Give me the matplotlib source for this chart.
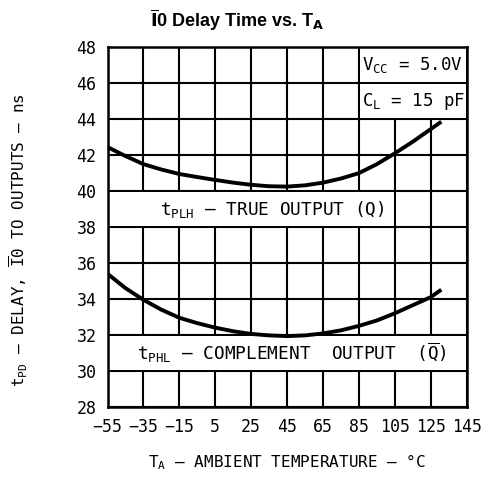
import matplotlib
matplotlib.use('Agg')
import matplotlib.pyplot as plt
from matplotlib.patches import Rectangle

# values
temps = [-55, -45, -35, -25, -15, -5, 5, 15, 25, 35, 45, 55, 65, 75, 85, 95, 105, 115, 125, 130]
t_plh = [42.45, 41.95, 41.5, 41.2, 40.95, 40.78, 40.62, 40.47, 40.35, 40.27, 40.25, 40.32, 40.47, 40.7,
         41.0, 41.5, 42.1, 42.75, 43.45, 43.8]
t_phl = [35.4, 34.6, 33.95, 33.4, 32.95, 32.65, 32.4, 32.2, 32.05, 31.97, 31.93, 31.97, 32.08, 32.25,
         32.5, 32.8, 33.2, 33.65, 34.1, 34.45]
x_ticks = [-55, -35, -15, 5, 25, 45, 65, 85, 105, 125, 145]
y_ticks = [28, 30, 32, 34, 36, 38, 40, 42, 44, 46, 48]

# the original uses a narrow stroke font, a monospace face is the closest look
plt.rcParams['font.family'] = ['DejaVu Sans Mono']
plt.rcParams['mathtext.fontset'] = 'custom'
plt.rcParams['mathtext.rm'] = 'DejaVu Sans Mono'
plt.rcParams['mathtext.default'] = 'regular'

fig = plt.figure(figsize=(4.88, 4.93), dpi=100)
ax = fig.add_axes([0.2203, 0.175, 0.7360, 0.729])

ax.set_xlim(-55, 145)
ax.set_ylim(28, 48)
ax.set_xticks(x_ticks)
ax.set_yticks(y_ticks)
ax.tick_params(length=0, labelsize=12, pad=8)
ax.grid(True, color='black', lw=1.5)
ax.set_axisbelow(True)
for s in ax.spines.values():
    s.set_linewidth(1.8)

# white label boxes (gridlines on their borders stay visible)
boxes = [(-55, 38, 105, 40), (-55, 30, 145, 32), (85, 46, 145, 48), (85, 44, 145, 46)]
for x0, y0, x1, y1 in boxes:
    ax.add_patch(Rectangle((x0 + 0.5, y0 + 0.06), x1 - x0 - 1.0, y1 - y0 - 0.12,
                           facecolor='white', edgecolor='none', zorder=1.5))

ax.plot(temps, t_plh, color='black', lw=2.8, zorder=3)
ax.plot(temps, t_phl, color='black', lw=2.8, zorder=3)

fs = 12.8
ax.text(86.5, 47, 'V$_{CC}$ = 5.0V', fontsize=12.5, va='center', ha='left', zorder=4)
ax.text(86.5, 45, 'C$_L$ = 15 pF', fontsize=12.5, va='center', ha='left', zorder=4)
ax.text(-26, 39, 't$_{PLH}$ – TRUE OUTPUT (Q)', fontsize=fs, va='center', ha='left', zorder=4)
ax.text(-38.5, 31, r't$_{PHL}$ – COMPLEMENT  OUTPUT  ($\overline{Q}$)', fontsize=fs, va='center',
        ha='left', zorder=4)

fig.text(0.486, 0.945, r'$\mathbf{\overline{I}}$0 Delay Time vs. T$_\mathbf{A}$', fontsize=13,
         fontweight='bold', family='Liberation Sans', ha='center', va='baseline',
         math_fontfamily='dejavusans')
ax.set_xlabel('T$_A$ – AMBIENT TEMPERATURE – °C', fontsize=11.5, labelpad=12)
ax.set_ylabel(r't$_{PD}$ – DELAY, $\overline{I}$0 TO OUTPUTS – ns', fontsize=11.5)
ax.yaxis.set_label_coords(-0.215, 0.464)

fig.savefig('out.png', dpi=100)
